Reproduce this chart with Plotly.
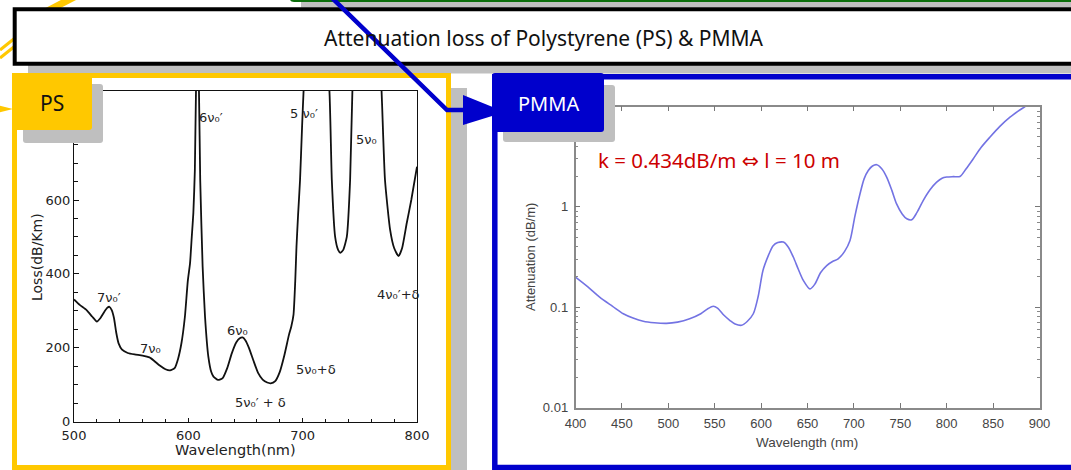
import plotly.graph_objects as go

W, H = 1071, 470

# ---------------- data ----------------
title_text = "Attenuation loss of Polystyrene (PS) & PMMA"
panel_labels = ["PS", "PMMA"]
note_text = ("k = 0.434dB/m <span style=\"font-family:'DejaVu Sans'\">⇔</span> l = 10 m")

ps_wavelength = [500, 505, 511, 516, 520, 523, 526, 529, 531, 533, 535, 537, 539, 542, 547,
                 553, 560, 566, 570, 575, 580, 584, 588, 591, 594, 597, 599.5, 601.5, 603,
                 604.4, 605.7, 606.7, 608, 609.3, 610.4, 612.5, 614.6, 617.5, 620, 622, 626,
                 630, 634, 638, 642, 645, 647.5, 650, 653, 657, 661, 665, 669, 672, 676, 680,
                 684, 688, 690, 692, 693.5, 694.6, 696, 697.7, 699.5, 700.8, 703, 720, 723.4,
                 725.5, 728.4, 731, 733, 735.5, 738.6, 741.5, 743.5, 745.5, 767, 769, 772,
                 776.5, 780, 783.8, 787, 791, 795, 800]
ps_loss = [331, 316, 302, 284, 271, 280, 295, 308, 311, 302, 280, 240, 212, 195, 186,
           182, 179, 174, 165, 152, 142, 139, 145, 170, 213, 284, 380, 429, 500,
           565, 680, 895, 1000, 895, 654, 420, 284, 176, 135, 122, 113,
           118, 145, 185, 215, 226, 228, 220, 200, 165, 132, 114, 106, 104, 110, 135,
           180, 235, 257, 290, 380, 474, 560, 654, 800, 895, 1000, 1000, 895,
           654, 500, 465, 457, 465, 500, 654, 895, 1000, 1000, 895, 654,
           519, 470, 448, 470, 537, 600, 690]

ps_peak_labels = ["7ν₀′", "7ν₀", "6ν₀′", "6ν₀", "5ν₀′ + δ", "5 ν₀′", "5ν₀", "5ν₀+δ", "4ν₀′+δ"]

pmma_wavelength = [400, 413, 426, 440, 451.5, 462, 473, 485, 498, 510, 523, 535, 543, 548.5,
                   553, 560, 566.5, 572, 579, 585, 591.6, 597, 602, 608, 613, 618, 624, 629,
                   634.7, 640, 645.5, 652.7, 658, 664, 670.7, 677, 683, 690, 695.8, 701,
                   706.6, 711, 715.5, 720, 724.6, 730, 735.3, 741, 746, 752, 757, 762.3,
                   768, 774.8, 782, 789.2, 795, 800, 807, 814.3, 821, 828.7, 837, 846.7,
                   857, 868.2, 877, 884.4, 890]
pmma_atten = [0.199, 0.16, 0.126, 0.102, 0.086, 0.078, 0.0725, 0.070, 0.069, 0.071, 0.0766,
              0.086, 0.097, 0.102, 0.098, 0.083, 0.0736, 0.068, 0.066, 0.072, 0.086, 0.13,
              0.232, 0.33, 0.41, 0.44, 0.445, 0.40, 0.316, 0.24, 0.185, 0.152, 0.17, 0.22,
              0.26, 0.285, 0.303, 0.36, 0.462, 0.8, 1.35, 1.9, 2.3, 2.55, 2.63, 2.4, 1.98,
              1.45, 1.07, 0.85, 0.76, 0.743, 0.88, 1.16, 1.48, 1.76, 1.93, 1.98, 2.0, 2.01,
              2.4, 3.02, 3.9, 4.96, 6.3, 7.83, 9.0, 10.0, 11.0]

pmma_ytick_vals = [0.01, 0.1, 1]
pmma_ytick_text = ["0.01", "0.1", "1"]
pmma_minor_vals = [0.02, 0.03, 0.04, 0.05, 0.06, 0.07, 0.08, 0.09,
                   0.2, 0.3, 0.4, 0.5, 0.6, 0.7, 0.8, 0.9,
                   2, 3, 4, 5, 6, 7, 8, 9]

# ---------------- helpers ----------------
def X(px):
    return px / W

def Y(py):
    return 1 - py / H

def rrect_path(x0, y0, x1, y1, r):
    pts = [
        f"M {X(x0 + r)},{Y(y0)}", f"L {X(x1 - r)},{Y(y0)}",
        f"Q {X(x1)},{Y(y0)} {X(x1)},{Y(y0 + r)}", f"L {X(x1)},{Y(y1 - r)}",
        f"Q {X(x1)},{Y(y1)} {X(x1 - r)},{Y(y1)}", f"L {X(x0 + r)},{Y(y1)}",
        f"Q {X(x0)},{Y(y1)} {X(x0)},{Y(y1 - r)}", f"L {X(x0)},{Y(y0 + r)}",
        f"Q {X(x0)},{Y(y0)} {X(x0 + r)},{Y(y0)}", "Z"]
    return " ".join(pts)

def poly_path(points, close=True):
    s = "M " + " L ".join(f"{X(a)},{Y(b)}" for a, b in points)
    return s + (" Z" if close else "")

GRAY = "#bfbfbf"
YEL = "#ffc800"
BLUE = "#0000cc"
GREEN = "#0b6e0b"

fig = go.Figure()

fig.add_trace(go.Scatter(
    x=ps_wavelength, y=ps_loss, mode="lines",
    line=dict(color="#111111", width=1.8, shape="spline", smoothing=0.5),
    xaxis="x", yaxis="y", hoverinfo="skip"))

fig.add_trace(go.Scatter(
    x=pmma_wavelength, y=pmma_atten, mode="lines",
    line=dict(color="#7373e3", width=1.6, shape="spline", smoothing=0.8),
    xaxis="x2", yaxis="y2", hoverinfo="skip"))

shapes = []
# yellow connectors (behind title box)
shapes.append(dict(type="line", xref="paper", yref="paper", layer="below",
                   x0=X(80), y0=Y(-6), x1=X(30), y1=Y(20), line=dict(color=YEL, width=7)))
shapes.append(dict(type="line", xref="paper", yref="paper", layer="below",
                   x0=X(0), y0=Y(50), x1=X(40), y1=Y(18), line=dict(color=YEL, width=3)))
shapes.append(dict(type="line", xref="paper", yref="paper", layer="below",
                   x0=X(0), y0=Y(58), x1=X(45), y1=Y(22), line=dict(color=YEL, width=3)))
shapes.append(dict(type="path", xref="paper", yref="paper", layer="below",
                   path=poly_path([(-18, 101.5), (13, 109), (-18, 116.5)]),
                   fillcolor=YEL, line=dict(width=0)))
# green box (top, mostly off canvas) with shadow
shapes.append(dict(type="rect", xref="paper", yref="paper", layer="below",
                   x0=X(301), y0=Y(-30), x1=X(1100), y1=Y(7.5),
                   fillcolor=GRAY, line=dict(width=0)))
shapes.append(dict(type="path", xref="paper", yref="paper", layer="below",
                   path=rrect_path(291, -40, 1100, 0.5, 3),
                   fillcolor="white", line=dict(color=GREEN, width=3)))
# title box shadow + box
shapes.append(dict(type="rect", xref="paper", yref="paper", layer="below",
                   x0=X(28), y0=Y(20), x1=X(1100), y1=Y(73.5),
                   fillcolor=GRAY, line=dict(width=0)))
shapes.append(dict(type="rect", xref="paper", yref="paper", layer="below",
                   x0=X(14.7), y0=Y(9.3), x1=X(1090), y1=Y(63.8),
                   fillcolor="white", line=dict(color="black", width=4)))
# PS panel shadow + box
shapes.append(dict(type="rect", xref="paper", yref="paper", layer="below",
                   x0=X(27), y0=Y(88), x1=X(467), y1=Y(480),
                   fillcolor=GRAY, line=dict(width=0)))
shapes.append(dict(type="rect", xref="paper", yref="paper", layer="below",
                   x0=X(14.5), y0=Y(75.5), x1=X(448.5), y1=Y(467.5),
                   fillcolor="white", line=dict(color=YEL, width=5)))
# PMMA panel box
shapes.append(dict(type="rect", xref="paper", yref="paper", layer="below",
                   x0=X(494.8), y0=Y(76.8), x1=X(1090), y1=Y(467.5),
                   fillcolor="white", line=dict(color=BLUE, width=5.5)))
# blue connector with arrow head
shapes.append(dict(type="path", xref="paper", yref="paper", layer="below",
                   path=poly_path([(330, -4), (447, 110), (466, 110)], close=False),
                   fillcolor="rgba(0,0,0,0)", line=dict(color=BLUE, width=4.5)))
shapes.append(dict(type="path", xref="paper", yref="paper", layer="below",
                   path=poly_path([(463, 95), (505, 112), (463, 125)]),
                   fillcolor=BLUE, line=dict(width=0)))
# label shadows and labels (above plots)
shapes.append(dict(type="path", xref="paper", yref="paper", layer="above",
                   path=rrect_path(23, 84, 103, 143, 3), fillcolor=GRAY, line=dict(width=0)))
shapes.append(dict(type="path", xref="paper", yref="paper", layer="above",
                   path=rrect_path(12, 73, 92, 130, 3), fillcolor=YEL, line=dict(width=0)))
shapes.append(dict(type="path", xref="paper", yref="paper", layer="above",
                   path=rrect_path(503, 85, 615, 142, 3), fillcolor=GRAY, line=dict(width=0)))
shapes.append(dict(type="path", xref="paper", yref="paper", layer="above",
                   path=rrect_path(492, 73, 604, 132, 3), fillcolor=BLUE, line=dict(width=0)))

ann = []
ann.append(dict(xref="paper", yref="paper", x=X(544), y=Y(38), text=title_text,
                showarrow=False, font=dict(family="Noto Sans", size=21, color="#111111"),
                xanchor="center", yanchor="middle"))
ann.append(dict(xref="paper", yref="paper", x=X(52), y=Y(103), text=panel_labels[0],
                showarrow=False, font=dict(family="Noto Sans", size=21, color="#111111"),
                xanchor="center", yanchor="middle"))
ann.append(dict(xref="paper", yref="paper", x=X(548), y=Y(103), text=panel_labels[1],
                showarrow=False, font=dict(family="Noto Sans", size=20, color="white"),
                xanchor="center", yanchor="middle"))
ann.append(dict(xref="paper", yref="paper", x=X(719), y=Y(160), text=note_text,
                showarrow=False, font=dict(family="Noto Sans", size=20.5, color="#cc0000"),
                xanchor="center", yanchor="middle"))
# left chart axis titles
ann.append(dict(xref="paper", yref="paper", x=X(37), y=Y(257), text="Loss(dB/Km)",
                textangle=-90, showarrow=False,
                font=dict(family="DejaVu Sans", size=14, color="#222222"),
                xanchor="center", yanchor="middle"))
ann.append(dict(xref="paper", yref="paper", x=X(235), y=Y(450), text="Wavelength(nm)",
                showarrow=False, font=dict(family="DejaVu Sans", size=14.5, color="#222222"),
                xanchor="center", yanchor="middle"))
# right chart axis titles
ann.append(dict(xref="paper", yref="paper", x=X(530), y=Y(257), text="Attenuation (dB/m)",
                textangle=-90, showarrow=False,
                font=dict(family="Liberation Sans", size=13, color="#444444"),
                xanchor="center", yanchor="middle"))
ann.append(dict(xref="paper", yref="paper", x=X(807), y=Y(442), text="Wavelength (nm)",
                showarrow=False, font=dict(family="Liberation Sans", size=13.5, color="#444444"),
                xanchor="center", yanchor="middle"))
# peak labels on PS chart (data coordinates)
label_pos = [(530.6, 335), (566.5, 197), (619.8, 822), (643.4, 248), (662.7, 51),
             (701.2, 833), (755.4, 765), (711.7, 140), (783.4, 343)]
for t, (lx, ly) in zip(ps_peak_labels, label_pos):
    ann.append(dict(xref="x", yref="y", x=lx, y=ly, text=t, showarrow=False,
                    font=dict(family="DejaVu Sans", size=13, color="#222222"),
                    xanchor="center", yanchor="middle"))

fig.update_layout(
    width=W, height=H, margin=dict(l=0, r=0, t=0, b=0, autoexpand=False),
    paper_bgcolor="white", plot_bgcolor="rgba(0,0,0,0)",
    showlegend=False, shapes=shapes, annotations=ann,
    xaxis=dict(domain=[X(74), X(417)], range=[500, 800], anchor="y", automargin=False,
               showline=True, linecolor="#111111", linewidth=1.3, mirror=True,
               ticks="inside", ticklen=4, tickcolor="#111111", tick0=500, dtick=100,
               minor=dict(ticks="inside", ticklen=3, dtick=20, tickcolor="#111111"),
               showgrid=False, zeroline=False, ticklabelstandoff=2,
               tickfont=dict(family="DejaVu Sans", size=13, color="#222222")),
    yaxis=dict(domain=[Y(421.7), Y(91)], range=[0, 895], anchor="x", automargin=False,
               showline=True, linecolor="#111111", linewidth=1.3, mirror=True,
               ticks="inside", ticklen=5, tickcolor="#111111", tick0=0, dtick=200,
               minor=dict(ticks="inside", ticklen=4, dtick=50, tickcolor="#111111"),
               showgrid=False, zeroline=False,
               tickfont=dict(family="DejaVu Sans", size=13, color="#222222")),
    xaxis2=dict(domain=[X(575.5), X(1039.5)], range=[400, 900], anchor="y2", automargin=False,
                showline=True, linecolor="#8a8a8a", linewidth=1.5, mirror="allticks",
                ticks="inside", ticklen=5, tickcolor="#777777", tick0=400, dtick=50,
                showgrid=False, zeroline=False, ticklabelstandoff=3,
                tickfont=dict(family="Liberation Sans", size=13, color="#444444")),
    yaxis2=dict(type="log", domain=[Y(407.5), Y(106.5)], range=[-2, 1], anchor="x2",
                automargin=False,
                showline=True, linecolor="#8a8a8a", linewidth=1.5, mirror="allticks",
                ticks="inside", ticklen=5, tickcolor="#777777",
                tickmode="array", tickvals=pmma_ytick_vals, ticktext=pmma_ytick_text,
                minor=dict(ticks="inside", ticklen=3, tickmode="array",
                           tickvals=pmma_minor_vals, tickcolor="#888888"),
                showgrid=False, zeroline=False, ticklabelstandoff=3,
                tickfont=dict(family="Liberation Sans", size=13, color="#444444")),
)

fig.write_html("out.html", config={"displayModeBar": False},
               post_script="document.body.style.margin='0px';document.body.style.overflow='hidden';")
